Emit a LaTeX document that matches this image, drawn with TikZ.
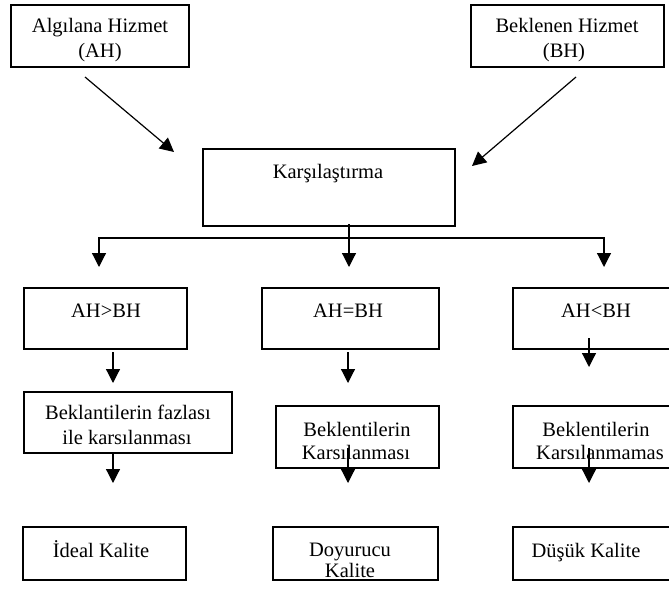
\documentclass[tikz,border=0pt]{standalone}
\usepackage{fontspec}
\setmainfont{Liberation Serif}
\usetikzlibrary{arrows.meta}
\begin{document}
\begin{tikzpicture}[x=1pt,y=-1pt,
  box/.style={draw, line width=1.5pt, rectangle, inner sep=0pt},
  txt/.style={anchor=base, inner sep=0pt, font=\fontsize{20.5}{24}\selectfont},
  conn/.style={line width=1.2pt, -{Triangle[length=14pt,width=14pt]}},
  bare/.style={line width=1.2pt}]
\path[use as bounding box, clip] (0,0) rectangle (669,594);

% ---- boxes ----
\node[box, minimum width=178pt, minimum height=62pt] (ah)   at (100,36)    {};
\node[box, minimum width=193pt, minimum height=62pt] (bh)   at (567.5,36)  {};
\node[box, minimum width=252pt, minimum height=77pt] (kars) at (329,187.5) {};

\node[box, minimum width=163pt, minimum height=61pt] (gt) at (105.5,318.5) {};
\node[box, minimum width=177pt, minimum height=61pt] (eq) at (350.5,318.5) {};
\node[box, minimum width=166pt, minimum height=61pt] (lt) at (596,318.5)   {};

\node[box, minimum width=208pt, minimum height=61pt] (fz)  at (128,422.5)   {};
\node[box, minimum width=163pt, minimum height=62pt] (ks)  at (357.5,437)   {};
\node[box, minimum width=166pt, minimum height=62pt] (ksm) at (596,437)     {};

\node[box, minimum width=163pt, minimum height=53pt] (ideal) at (104.5,553.5) {};
\node[box, minimum width=165pt, minimum height=53pt] (doy)   at (355.5,553.5) {};
\node[box, minimum width=166pt, minimum height=53pt] (dus)   at (596,553.5)   {};

% ---- texts ----
\node[txt] (ahA) at (100,33) {Algılana Hizmet};
\node[txt] (ahB) at (100,57) {(AH)};
\node[txt] (bhA) at (567,33) {Beklenen Hizmet};
\node[txt] (bhB) at (564,57) {(BH)};
\node[txt] (karsT) at (328,178) {Karşılaştırma};

\node[txt] (gtT) at (106,317) {AH>BH};
\node[txt] (eqT) at (348,317) {AH=BH};
\node[txt] (ltT) at (596,317) {AH<BH};

\node[txt] (fzA) at (128,419) {Beklantilerin fazlası};
\node[txt] (fzB) at (127,444) {ile karsılanması};
\node[txt] (ksA) at (357,436) {Beklentilerin};
\node[txt] (ksB) at (356,459) {Karsılanması};
\node[txt] (ksmA) at (596,436) {Beklentilerin};
\node[txt] (ksmB) at (600,459) {Karsılanmamas};

\node[txt] (idealT) at (101,557) {İdeal Kalite};
\node[txt] (doyA)   at (350,556) {Doyurucu};
\node[txt] (doyB)   at (350,577) {Kalite};
\node[txt] (dusT)   at (586,557) {Düşük Kalite};

% ---- connector end points ----
\coordinate (ahOut)  at (85,77);
\coordinate (karsL)  at (174,152);
\coordinate (bhOut)  at (576,77);
\coordinate (karsR)  at (472,166);

\coordinate (karsOut) at (349,224);
\coordinate (split)   at (349,238);
\coordinate (gtIn)    at (99,267);
\coordinate (eqIn)    at (349,267);
\coordinate (ltIn)    at (604,267);

\coordinate (gtOut)  at (113,352);
\coordinate (fzIn)   at (113,383);
\coordinate (eqOut)  at (348,352);
\coordinate (ksIn)   at (348,383);
\coordinate (ltOut)  at (589,338);
\coordinate (ksmIn)  at (589,367);

\coordinate (fzOut)  at (113,453);
\coordinate (idealIn) at (113,483);
\coordinate (ksOut)  at (348,448);
\coordinate (doyIn)  at (348,483);
\coordinate (ksmOut) at (589,448);
\coordinate (dusIn)  at (589,483);

% ---- connectors ----
\draw[conn] (ahOut) -- (karsL);
\draw[conn] (bhOut) -- (karsR);

\draw[conn] (karsOut) -- (eqIn);
\draw[conn] (split) -| (gtIn);
\draw[conn] (split) -| (ltIn);

\draw[conn] (gtOut) -- (fzIn);
\draw[conn] (eqOut) -- (ksIn);
\draw[conn] (ltOut) -- (ksmIn);

\draw[conn] (fzOut) -- (idealIn);
\draw[conn] (ksOut) -- (doyIn);
\draw[conn] (ksmOut) -- (dusIn);
\end{tikzpicture}
\end{document}
